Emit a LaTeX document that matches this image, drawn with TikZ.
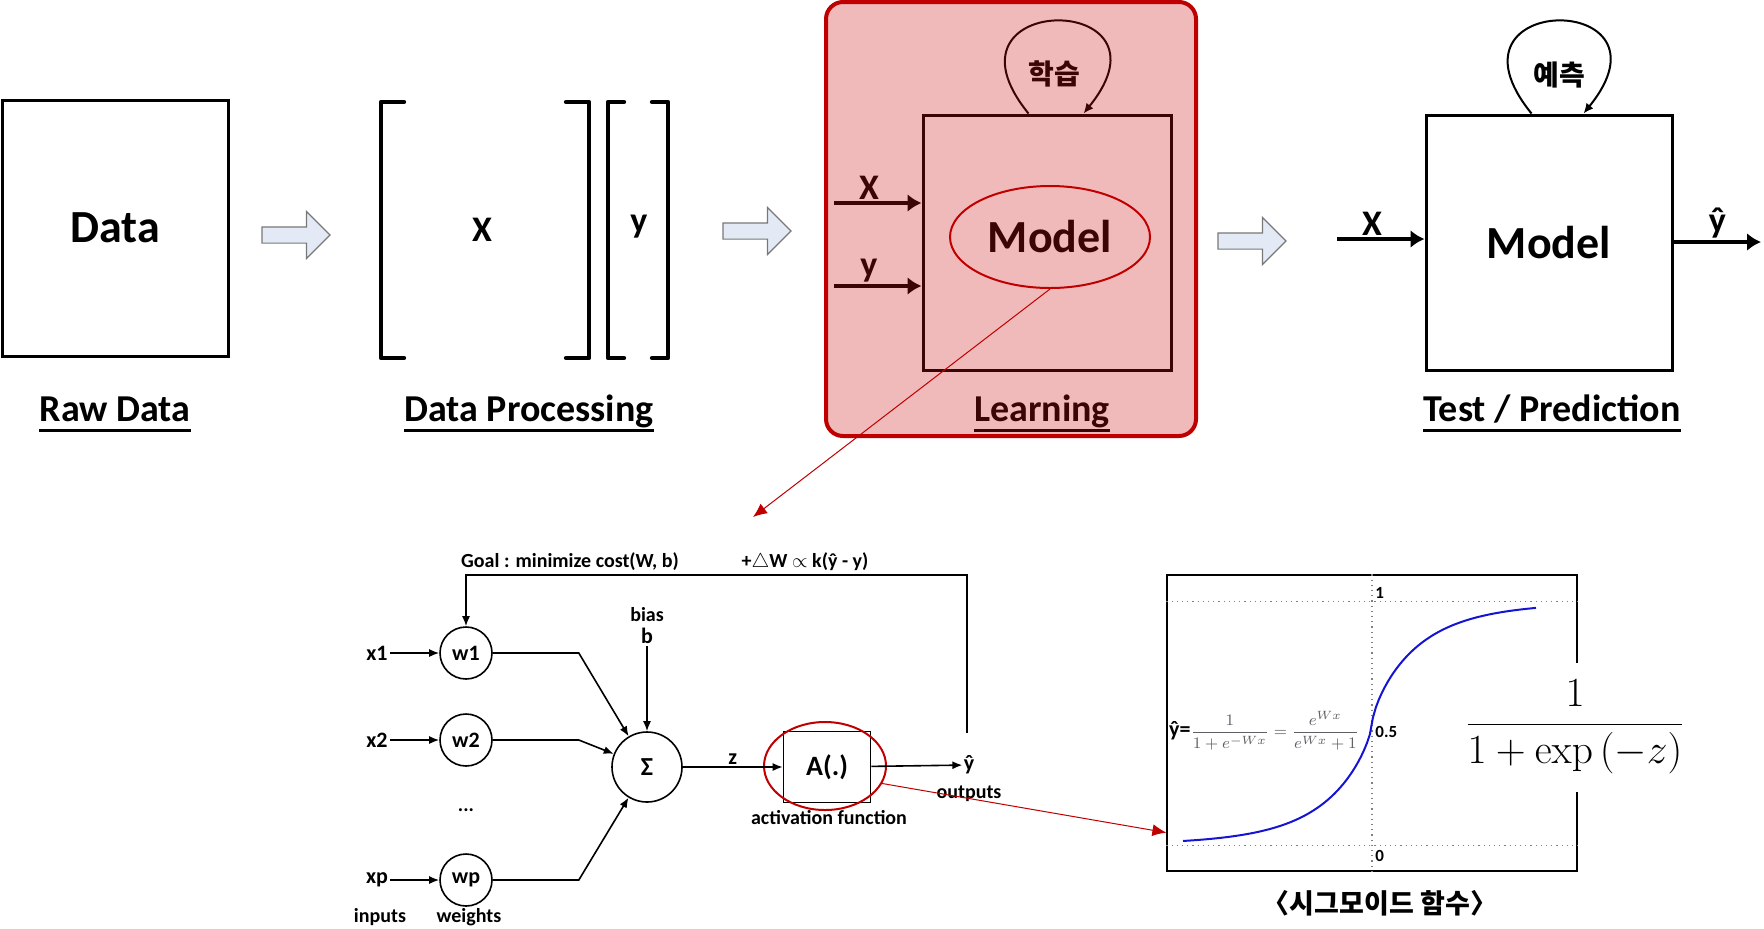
\documentclass[tikz,border=0pt]{standalone}
\usepackage{amsmath}
\usepackage[no-math]{fontspec}
\setmainfont{Carlito}
\newfontfamily\kr{Noto Sans CJK KR}
\usetikzlibrary{arrows.meta,positioning,calc,shapes.geometric,shapes.arrows}

\definecolor{learnfill}{RGB}{240,186,186}
\definecolor{learnedge}{RGB}{192,0,0}
\definecolor{inkred}{RGB}{60,5,5}
\definecolor{arrowfill}{RGB}{228,234,245}
\definecolor{arrowedge}{RGB}{120,120,120}
\definecolor{curveblue}{RGB}{20,20,210}
\definecolor{formgray}{RGB}{95,95,100}

\begin{document}
\begin{tikzpicture}[
    x=0.5pt, y=-0.5pt,
    >=Latex,
    box/.style={draw,line width=1.5pt,inner sep=0pt},
    bigtxt/.style={font=\bfseries\fontsize{23}{26}\selectfont},
    stagecap/.style={font=\bfseries\fontsize{19}{22}\selectfont,anchor=base,inner sep=0pt,text depth=4.5pt},
    iolbl/.style={font=\bfseries\fontsize{18}{20}\selectfont,inner sep=1pt},
    kortxt/.style={font=\kr\bfseries\fontsize{14}{16}\selectfont},
    blockarrow/.style={single arrow,draw=arrowedge,fill=arrowfill,line width=0.6pt,minimum height=34pt,single arrow head extend=7.75pt,inner sep=3.75pt},
    bracket/.style={line width=2.2pt,line cap=round,line join=round},
    thickarrow/.style={line width=2pt,-{Latex[length=7pt,width=9pt]}},
    selfloop/.style={line width=1pt,-{Latex[length=5pt,width=4.5pt]}},
    smalltxt/.style={font=\bfseries\fontsize{10}{12}\selectfont,inner sep=1pt},
    inlbl/.style={font=\bfseries\fontsize{11}{13}\selectfont,inner sep=1pt},
    neuron/.style={circle,draw,line width=0.8pt,minimum size=26pt,inner sep=0pt,font=\bfseries\fontsize{11}{13}\selectfont},
    wire/.style={line width=0.8pt,-{Latex[length=5pt,width=4pt]}},
    zoomline/.style={draw=learnedge,line width=0.5pt,-{Latex[length=7pt,width=6pt]}},
    gridline/.style={draw=gray,dotted,line width=0.6pt},
    ticklbl/.style={font=\bfseries\fontsize{8.5}{10}\selectfont,inner sep=1pt,anchor=west}
  ]
  \useasboundingbox (0,0) rectangle (1764,928);

  % raw data
  \node[box,bigtxt,minimum width=113pt,minimum height=128pt] (data) at (115,228) {Data};
  \node[blockarrow] (ba1) at (292,235) {};

  % data processing
  \draw[bracket] (404,102) -- (381,102) -- (381,358) -- (404,358);
  \draw[bracket] (566,102) -- (589,102) -- (589,358) -- (566,358);
  \draw[bracket] (624,102) -- (608,102) -- (608,358) -- (624,358);
  \draw[bracket] (652,102) -- (668,102) -- (668,358) -- (652,358);
  \node[iolbl] (xmat) at (482,230) {X};
  \node[iolbl] (yvec) at (639,227) {y};
  \node[blockarrow] (ba2) at (753,231) {};

  % learning
  \node[draw=learnedge,fill=learnfill,line width=2pt,rounded corners=8.5pt,minimum width=185pt,minimum height=217pt] (learn) at (1011,219) {};
  \node[box,draw=inkred,minimum width=124pt,minimum height=127.5pt] (mbox) at (1047,242.5) {};
  \node[ellipse,draw=learnedge,line width=1pt,minimum width=100pt,minimum height=51pt,inner sep=0pt,bigtxt,text=inkred] (mell) at (1050,237) {Model};
  \coordinate (xin) at (834,203);
  \coordinate (yin) at (834,286);
  \draw[thickarrow,inkred] (xin) -- (xin -| mbox.west) node[pos=0.4,above,iolbl,text=inkred] (xlbl) {X};
  \draw[thickarrow,inkred] (yin) -- (yin -| mbox.west) node[pos=0.4,above,iolbl,text=inkred] (ylbl) {y};
  \draw[selfloop,inkred] ($(mbox.north west)+(107,0)$) .. controls +(-100,-123) and +(100,-123) .. ($(mbox.north west)+(162,0)$);
  \node[kortxt,text=inkred] (learnk) at (1054,74) {학습};
  \node[blockarrow] (ba3) at (1248,241) {};

  % test / prediction
  \node[box,bigtxt,minimum width=123pt,minimum height=127.5pt] (tbox) at (1549,242.5) {Model};
  \coordinate (tin) at (1337,239);
  \coordinate (tout) at (1761,242);
  \draw[thickarrow] (tin) -- (tin -| tbox.west) node[pos=0.4,above,iolbl] (txlbl) {X};
  \draw[thickarrow] (tbox.east |- tout) -- (tout) node[pos=0.5,above,iolbl] (tylbl) {ŷ};
  \draw[selfloop] ($(tbox.north west)+(107,0)$) .. controls +(-100,-123) and +(100,-123) .. ($(tbox.north west)+(159,0)$);
  \node[kortxt] (predk) at (1559,75) {예측};

  % stage captions
  \node[stagecap] (rawlbl) at (115,421) {Raw Data};
  \node[stagecap] (proclbl) at (529,421) {Data Processing};
  \node[stagecap,text=inkred] (learnlbl) at (1042,421) {Learning};
  \node[stagecap] (testlbl) at (1552,421) {Test / Prediction};
  \foreach \c/\col in {rawlbl/black,proclbl/black,learnlbl/inkred,testlbl/black}
    \draw[line width=1.4pt,\col] (\c.south west) -- (\c.south east);

  \coordinate (nettop) at (753,517);
  \draw[zoomline] (mell.south) -- (nettop);

  % neuron
  \node[smalltxt] (goal) at (570,562) {Goal : minimize cost(W, b)};
  \node[smalltxt] (delta) at (805,562) {+$\triangle$W $\propto$ k(ŷ - y)};
  \node[neuron] (w1) at (466,653) {w1};
  \node[neuron] (w2) at (466,740) {w2};
  \node[neuron] (wp) at (466,880) {wp};
  \node[inlbl] (x1) at (377,653) {x1};
  \node[inlbl] (x2) at (377,740) {x2};
  \node[inlbl] (xp) at (377,880) {xp};
  \node[smalltxt] (dots) at (466,810) {...};
  \node[smalltxt] (inputs) at (380,917) {inputs};
  \node[smalltxt] (weights) at (469,917) {weights};
  \node[neuron,minimum size=35pt,font=\bfseries\fontsize{13}{15}\selectfont] (sum) at (647,767) {Σ};
  \node[smalltxt] (bias) at (647,615) {bias};
  \node[inlbl] (bval) at (647,636) {b};
  \node[draw,line width=0.8pt,minimum width=43.5pt,minimum height=35.5pt,font=\bfseries\fontsize{14}{16}\selectfont] (act) at (827,767) {A(.)};
  \node[ellipse,draw=learnedge,line width=1pt,minimum width=61pt,minimum height=44pt] (actring) at (825,766) {};
  \node[smalltxt] (actlbl) at (829,818) {activation function};
  \node[inlbl,inner sep=0.5pt] (yout) at (969,765) {ŷ};
  \node[smalltxt] (outlbl) at (969,794) {outputs};

  \draw[wire] (x1) -- (w1);
  \draw[wire] (x2) -- (w2);
  \draw[wire] (xp) -- (wp);
  \draw[wire] (w1.east) -- ++(86,0) -- (sum);
  \draw[wire] (w2.east) -- ++(86,0) -- (sum);
  \draw[wire] (wp.east) -- ++(86,0) -- (sum);
  \draw[wire] (bval) -- (sum);
  \draw[wire] (sum) -- (act) node[midway,above,inlbl] (zlbl) {z};
  \draw[wire] (act) -- (yout);
  \coordinate (fbstart) at (967,733);
  \draw[wire] (fbstart) -- ++(0,-158) -| (w1.north);

  % sigmoid plot
  \node[draw,line width=0.6pt,minimum width=205pt,minimum height=148pt,inner sep=0pt] (plotbox) at (1372,723) {};
  \draw[gridline] (plotbox.north) -- (plotbox.south);
  \draw[gridline] ($(plotbox.north west)+(0,27)$) -- ($(plotbox.north east)+(0,27)$);
  \draw[gridline] ($(plotbox.south west)+(0,-26)$) -- ($(plotbox.south east)+(0,-26)$);
  \draw[curveblue,line width=1pt,domain=1183:1536,samples=120] plot (\x,{845-243/(1+exp(-0.104*sign(\x-1372)*(abs(\x-1372)+0.01)^0.7))});
  \node[ticklbl] (t1) at (1373,593) {1};
  \node[ticklbl] (t05) at (1373,732) {0.5};
  \node[ticklbl] (t0) at (1373,856) {0};
  \node[inner sep=0pt] (sigf) at (1264,731) {\bfseries\fontsize{11}{12}\selectfont ŷ=\textcolor{formgray}{\mdseries\fontsize{8.5}{10}\selectfont$\displaystyle\frac{1}{1+e^{-Wx}}=\frac{e^{Wx}}{e^{Wx}+1}$}};
  \node[fill=white,inner xsep=6pt,minimum height=64.5pt,font=\fontsize{19.5}{23}\selectfont] (sigdef) at (1575,727) {$\dfrac{1}{1+\exp\left(-z\right)}$};
  \node[font=\kr\bfseries\fontsize{13.5}{15}\selectfont] (sigcap) at (1380,903) {〈시그모이드 함수〉};
  \draw[zoomline] (actring.-17) -- ($(plotbox.south west)+(0,-39)$);
\end{tikzpicture}
\end{document}
